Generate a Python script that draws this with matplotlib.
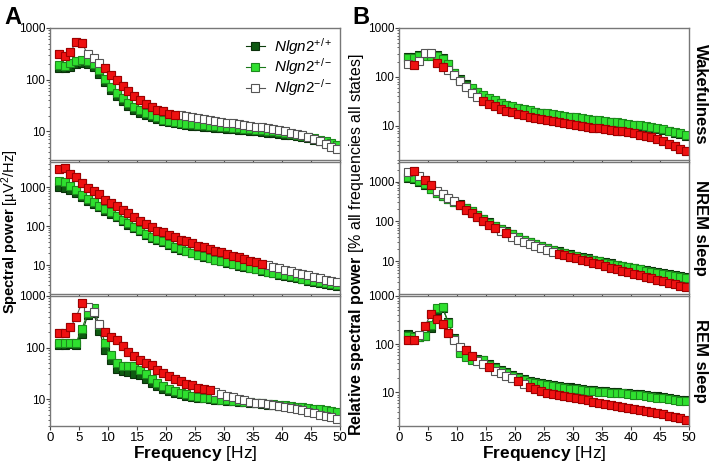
import numpy as np
import matplotlib
matplotlib.use('Agg')
import matplotlib.pyplot as plt

plt.rcParams['font.family'] = ['Liberation Sans', 'DejaVu Sans']
plt.rcParams['mathtext.fontset'] = 'custom'
plt.rcParams['mathtext.rm'] = 'Liberation Sans'
plt.rcParams['mathtext.it'] = 'Liberation Sans:italic'
plt.rcParams['mathtext.bf'] = 'Liberation Sans:bold'

# frequency bins (Hz)
freq = np.arange(1.5, 50, 1.0)

# ---- A: absolute spectral power ----
# wakefulness
a_wake_wt = [165, 165, 180, 200, 210, 205, 180, 130, 90, 62, 48, 38, 31, 26.5, 23, 21, 19, 17.5, 16, 15,
             14.3, 13.8, 13.4, 13, 12.7, 12.4, 12.1, 11.8, 11.5, 11.2, 11, 10.7, 10.5, 10.2, 10, 9.8, 9.5,
             9.3, 9.0, 8.7, 8.4, 8.1, 7.7, 7.3, 6.9, 6.5, 6.1, 5.7, 5.3]
a_wake_het = [191, 186, 206, 229, 239, 232, 200, 153, 105, 72, 55, 44, 35.5, 29.6, 25.7, 23, 20.4, 18.7,
              16.9, 15.6, 15, 14.6, 14.2, 13.8, 13.5, 13.2, 12.9, 12.6, 12.3, 12, 11.8, 11.5, 11.3, 11.0,
              10.8, 10.5, 10.3, 10.0, 9.7, 9.4, 9.1, 8.7, 8.3, 7.9, 7.4, 6.9, 6.4, 5.9, 5.4]
a_wake_ko = [313, 286, 347, 527, 519, 308, 258, 215, 170, 126, 98, 74, 60, 49, 41, 34, 29.4, 26.3, 24.5,
             22, 21, 20.5, 19.6, 18.8, 18, 17.3, 16.6, 16, 15.4, 14.8, 14.3, 13.8, 13.3, 12.8, 12.4, 12,
             11.5, 11, 10.5, 10, 9.5, 9, 8.4, 7.8, 7.2, 6.5, 5.8, 5.1, 4.5]
a_wake_sig = [0, 1, 2, 3, 4] + list(range(8, 21))

# NREM sleep
a_nrem_wt = [1030, 980, 880, 720, 560, 450, 370, 305, 252, 208, 171, 133, 110, 90, 75, 60, 51, 44, 38.5,
             33, 28.3, 24.8, 22.4, 20, 17.8, 16.2, 14.8, 13.5, 12.4, 11.4, 10.5, 9.7, 9.0, 8.3, 7.7, 7.1,
             6.6, 6.1, 5.7, 5.3, 4.9, 4.6, 4.3, 4.0, 3.7, 3.5, 3.3, 3.1, 2.9]
a_nrem_het = [1488, 1345, 1105, 857, 637, 502, 410, 337, 277, 227, 186, 144, 118, 97, 80, 63, 54, 47,
              40.5, 34.7, 29.6, 25.8, 23.3, 20.7, 18.4, 16.7, 15.2, 13.9, 12.7, 11.7, 10.8, 10.0, 9.2,
              8.5, 7.9, 7.3, 6.8, 6.3, 5.9, 5.5, 5.1, 4.8, 4.5, 4.2, 3.9, 3.6, 3.4, 3.2, 3.0]
a_nrem_ko = [2980, 3090, 2210, 1810, 1270, 965, 790, 675, 474, 387, 337, 262, 214, 176, 139, 114, 93, 77,
             69, 60, 51.6, 45, 40.5, 36, 31.5, 28.5, 26, 23.5, 21.3, 19.3, 17.5, 15.8, 14.3, 13, 11.8,
             10.7, 9.8, 9.0, 8.3, 7.6, 7.0, 6.4, 5.9, 5.4, 5.0, 4.6, 4.2, 3.9, 3.6]
a_nrem_sig = list(range(0, 36))

# REM sleep
a_rem_wt = [112, 113, 116, 110, 180, 430, 470, 210, 91, 57, 39, 35, 34, 31, 29, 24, 20.5, 17.7, 16, 14.4,
            13.2, 12.4, 11.5, 11, 10.6, 10.3, 10.0, 9.7, 9.4, 9.2, 9.0, 8.8, 8.6, 8.4, 8.2, 8.0, 7.8, 7.6,
            7.4, 7.2, 7.0, 6.8, 6.6, 6.4, 6.2, 6.0, 5.8, 5.6, 5.4]
a_rem_het = [123, 120, 123, 125, 232, 460, 575, 270, 123, 71, 49, 43, 43, 43, 37, 31, 25, 20.5, 17.7, 16,
             14.4, 13.2, 12.4, 11.5, 11, 10.7, 10.4, 10.1, 9.8, 9.5, 9.3, 9.1, 8.9, 8.7, 8.5, 8.3, 8.1,
             7.9, 7.7, 7.5, 7.3, 7.1, 6.9, 6.7, 6.5, 6.3, 6.1, 5.9, 5.6]
a_rem_ko = [193, 193, 245, 385, 743, 602, 496, 285, 199, 162, 139, 106, 82, 68, 57, 51, 45, 37, 32, 28,
            25, 22.5, 20, 18.5, 16.7, 15.5, 15, 13.5, 12.5, 11.6, 10.8, 10.0, 9.4, 8.9, 8.5, 8.2, 7.9,
            7.6, 7.3, 7.0, 6.7, 6.4, 6.0, 5.7, 5.3, 5.0, 4.7, 4.4, 4.1]
a_rem_sig = [0, 1, 2, 3, 4] + list(range(8, 27))

# ---- B: relative spectral power ----
b_wake_wt = [258, 255, 280, 285, 280, 275, 240, 182, 122, 90, 70, 57, 48, 41, 36, 32, 29, 26.5, 24.5,
             22.7, 21.3, 20.1, 19.1, 18.2, 17.4, 16.7, 16.1, 15.5, 14.9, 14.4, 13.9, 13.4, 12.9, 12.5,
             12.1, 11.7, 11.3, 10.9, 10.6, 10.2, 9.8, 9.4, 9.0, 8.6, 8.2, 7.7, 7.2, 6.7, 6.3]
b_wake_het = [243, 243, 271, 271, 271, 271, 236, 180, 118, 86, 66, 58, 49, 42, 37, 33, 29.5, 27, 25,
              23.2, 21.8, 20.6, 19.6, 18.7, 17.9, 17.2, 16.6, 16, 15.4, 14.9, 14.4, 13.9, 13.4, 13.0,
              12.6, 12.2, 11.8, 11.4, 11.0, 10.6, 10.2, 9.8, 9.4, 9.0, 8.5, 8.0, 7.5, 7.0, 6.5]
b_wake_ko = [185, 175, 212, 310, 310, 192, 157, 137, 112, 82, 62, 46, 38, 32, 28, 25, 22.5, 20.5, 19,
             17.7, 16.5, 15.5, 14.6, 13.8, 13.0, 12.4, 11.8, 11.3, 10.8, 10.4, 10.0, 9.6, 9.2, 8.9, 8.6,
             8.3, 8.0, 7.7, 7.4, 7.0, 6.6, 6.2, 5.8, 5.3, 4.8, 4.3, 3.8, 3.4, 3.0]
b_wake_sig = [1, 5, 6] + list(range(13, 49))

b_nrem_wt = [1200, 1180, 1000, 820, 640, 520, 430, 360, 300, 268, 220, 182, 146, 116, 95, 78, 66, 56,
             48, 41, 35, 30.5, 27, 24, 21.4, 19.4, 17.6, 16.1, 14.8, 13.6, 12.6, 11.7, 10.9, 10.1, 9.4,
             8.8, 8.2, 7.7, 7.2, 6.8, 6.4, 6.0, 5.6, 5.3, 5.0, 4.7, 4.4, 4.2, 4.0]
b_nrem_het = [1300, 1250, 1050, 850, 650, 520, 430, 360, 300, 265, 215, 178, 142, 112, 92, 76, 64, 55,
              47, 40, 34.5, 30, 26.5, 23.5, 21, 19, 17.3, 15.8, 14.5, 13.3, 12.3, 11.4, 10.6, 9.9, 9.2,
              8.6, 8.0, 7.5, 7.0, 6.6, 6.2, 5.8, 5.4, 5.1, 4.8, 4.5, 4.2, 4.0, 3.8]
b_nrem_ko = [1697, 1800, 1400, 1105, 823, 589, 476, 391, 322, 254, 197, 162, 128, 101, 83, 69, 58, 50,
             41, 34, 29.5, 27, 24.4, 21.2, 18.8, 17, 15.6, 14.3, 13.1, 12.0, 11.0, 10.0, 9.1, 8.3, 7.6,
             6.9, 6.3, 5.8, 5.3, 4.8, 4.4, 4.0, 3.7, 3.4, 3.1, 2.8, 2.6, 2.4, 2.2]
b_nrem_sig = [1, 3, 4] + list(range(9, 16)) + [17] + list(range(26, 49))

b_rem_wt = [160, 150, 140, 150, 220, 500, 560, 290, 135, 70, 57, 50, 49, 48, 39, 33.5, 29.5, 26.3, 23.2,
            20.5, 18.7, 17.3, 16.3, 15.4, 14.7, 14.1, 13.5, 13.0, 12.6, 12.2, 11.8, 11.4, 11.1, 10.8,
            10.5, 10.3, 10.1, 9.9, 9.6, 9.4, 9.1, 8.8, 8.5, 8.2, 7.9, 7.6, 7.3, 7.0, 6.8]
b_rem_het = [145, 141, 140, 145, 246, 552, 600, 277, 130, 65, 54, 47, 47, 46, 37.5, 32, 28, 25, 22,
             19.5, 17.8, 16.5, 15.5, 14.7, 14.0, 13.4, 12.9, 12.4, 12.0, 11.6, 11.2, 10.9, 10.6, 10.3,
             10.1, 9.9, 9.7, 9.5, 9.2, 9.0, 8.7, 8.4, 8.1, 7.8, 7.5, 7.2, 6.9, 6.7, 6.5]
b_rem_ko = [120, 120, 152, 235, 433, 341, 259, 171, 120, 87, 76, 58, 45.5, 38.6, 33, 28, 24.8, 22.2,
            19.8, 16.8, 14.8, 12.6, 11.6, 10.7, 9.6, 9.2, 8.8, 8.4, 8.0, 7.6, 7.2, 6.8, 6.4, 6.1, 5.8,
            5.5, 5.2, 4.9, 4.7, 4.5, 4.3, 4.1, 3.9, 3.7, 3.5, 3.3, 3.1, 2.9, 2.7]
b_rem_sig = [0, 1, 3, 4, 5, 6, 7, 10, 11, 14, 19] + list(range(21, 49))

panels = [
    # (column, row, wt, het, ko, sig, ylim)
    (0, 0, a_wake_wt, a_wake_het, a_wake_ko, a_wake_sig, (2.8, 1000)),
    (0, 1, a_nrem_wt, a_nrem_het, a_nrem_ko, a_nrem_sig, (1.8, 4500)),
    (0, 2, a_rem_wt, a_rem_het, a_rem_ko, a_rem_sig, (3, 1000)),
    (1, 0, b_wake_wt, b_wake_het, b_wake_ko, b_wake_sig, (2, 420)),
    (1, 1, b_nrem_wt, b_nrem_het, b_nrem_ko, b_nrem_sig, (1.5, 3100)),
    (1, 2, b_rem_wt, b_rem_het, b_rem_ko, b_rem_sig, (2, 1000)),
]
row_names = ['Wakefulness', 'NREM sleep', 'REM sleep']

W, H = 709, 463
fig = plt.figure(figsize=(W / 100, H / 100), dpi=100)

col_left = [50, 399]
row_top = [28, 162, 296]
row_h = [132, 132, 130]
ax_w = 290

ms = 5.8
for col, row, wt, het, ko, sig, ylim in panels:
    ax = fig.add_axes([col_left[col] / W, 1 - (row_top[row] + row_h[row]) / H, ax_w / W, row_h[row] / H])
    ax.plot(freq, wt, '-s', color='#0d3d0d', lw=0.8, ms=ms, mfc='#0f5a12', mec='#0a300a', mew=0.8,
            label='$\\mathit{Nlgn2}^{+/+}$')
    ax.plot(freq, het, '-s', color='#1a7a1a', lw=0.8, ms=ms, mfc='#2fe02f', mec='#1d8a1d', mew=0.8,
            label='$\\mathit{Nlgn2}^{+/-}$')
    ax.plot(freq, ko, '-s', color='#555555', lw=0.8, ms=ms, mfc='white', mec='#555555', mew=0.8,
            label='$\\mathit{Nlgn2}^{-/-}$')
    ko_arr = np.array(ko)
    ax.plot(freq[sig], ko_arr[sig], 's', ls='none', ms=ms, mfc='#ee1111', mec='#a00000', mew=0.8)

    ax.set_yscale('log')
    ax.set_ylim(*ylim)
    ax.set_xlim(0, 50)
    ax.set_xticks(np.arange(0, 51, 5))
    ax.set_yticks([10, 100, 1000])
    ax.set_yticklabels(['10', '100', '1000'])
    ax.tick_params(axis='both', which='major', direction='out', length=3, width=0.8,
                   color='#444444', labelsize=9.5, pad=1)
    ax.tick_params(axis='y', which='major', labelsize=8.5, pad=0.5)
    ax.tick_params(axis='y', which='minor', direction='out', length=1.5, width=0.6, color='#444444')
    ax.yaxis.set_minor_formatter(matplotlib.ticker.NullFormatter())
    for s in ax.spines.values():
        s.set_color('#777777')
        s.set_linewidth(1.0)
    if row < 2:
        ax.set_xticklabels([])
    else:
        ax.set_xlabel('$\\mathbf{Frequency}$ [Hz]', fontsize=12.5, labelpad=0)
    if col == 0 and row == 0:
        ax.legend(loc='upper right', frameon=False, fontsize=11, handlelength=1.2,
                  handletextpad=0.6, labelspacing=0.0, borderaxespad=0.1)
    if col == 1:
        ax.text(1.015, 0.5, row_names[row], transform=ax.transAxes, rotation=-90,
                fontsize=12, fontweight='bold', va='center', ha='left')

fig.text(4 / W, 1 - 17 / H, 'A', fontsize=17, fontweight='bold', va='center', ha='left')
fig.text(352 / W, 1 - 17 / H, 'B', fontsize=17, fontweight='bold', va='center', ha='left')
fig.text(10 / W, 1 - 232 / H, '$\\mathbf{Spectral\\ power}$ [µV$^{2}$/Hz]', rotation=90,
         fontsize=10.5, va='center', ha='center')
fig.text(357 / W, 1 - 245 / H, '$\\mathbf{Relative\\ spectral\\ power}$ [% all frequencies all states]',
         rotation=90, fontsize=11.5, va='center', ha='center')

fig.savefig('out.png', dpi=100)
